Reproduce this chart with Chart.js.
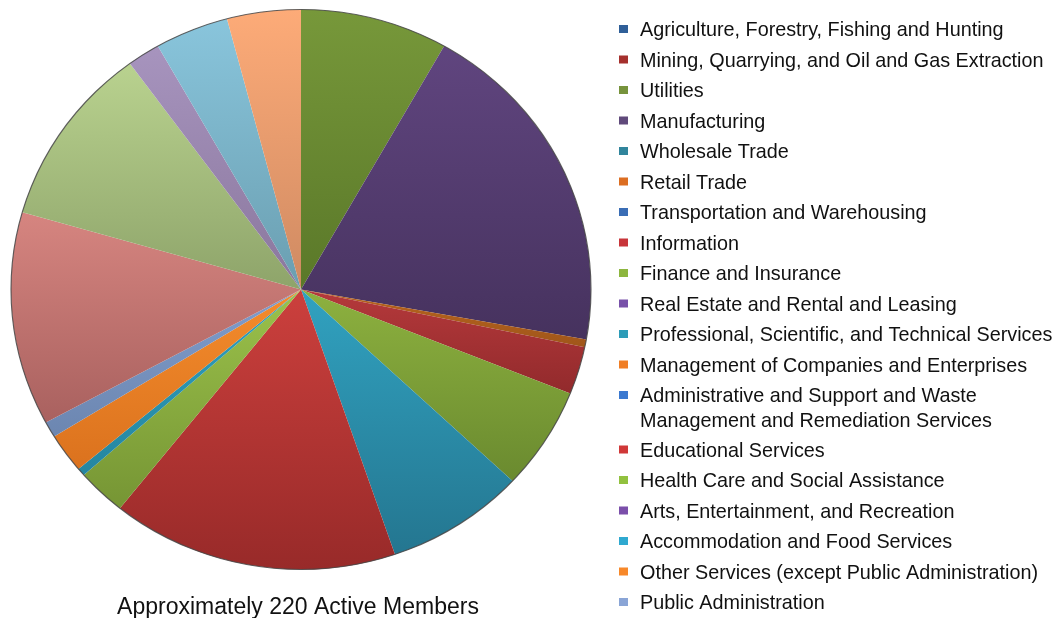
<!DOCTYPE html>
<html><head><meta charset="utf-8">
<script src="https://cdn.jsdelivr.net/npm/chart.js@4.4.1/dist/chart.umd.min.js"></script>
<style>html,body{margin:0;padding:0;background:#fff;overflow:hidden}#wrap{width:1062px;height:618px}</style>
</head><body><div id="wrap"><canvas id="c" width="1062" height="618"></canvas></div>
<script>
// ---- data ----
const categories = [
  'Agriculture, Forestry, Fishing and Hunting',
  'Mining, Quarrying, and Oil and Gas Extraction',
  'Utilities',
  'Manufacturing',
  'Wholesale Trade',
  'Retail Trade',
  'Transportation and Warehousing',
  'Information',
  'Finance and Insurance',
  'Real Estate and Rental and Leasing',
  'Professional, Scientific, and Technical Services',
  'Management of Companies and Enterprises',
  'Administrative and Support and Waste Management and Remediation Services',
  'Educational Services',
  'Health Care and Social Assistance',
  'Arts, Entertainment, and Recreation',
  'Accommodation and Food Services',
  'Other Services (except Public Administration)',
  'Public Administration',
  'Unlisted 1', 'Unlisted 2', 'Unlisted 3', 'Unlisted 4', 'Unlisted 5'
];
const members = [0, 0, 18, 43, 0, 1, 0, 6, 13, 0, 17, 0, 0, 35, 6, 0, 1, 5, 2, 27, 23, 4, 9, 9];
const legendShown = 19;
const legendWrapped = { 12: ['Administrative and Support and Waste', 'Management and Remediation Services'] };
const chartTitle = 'Approximately 220 Active Members';

// ---- styles ----
const topColors = ['#2F5F98','#A5302D','#77983A','#60457F','#31859C','#B8641E','#3A6DB5','#B5393B','#8DB13F','#7851A9',
  '#31A2C0','#F07E25','#3B79D0','#CC403D','#9BC24B','#7B4FAA','#2FA0C0','#F48C2C','#809DCC',
  '#D68580','#B9D28F','#A794BE','#89C5DC','#FDAB78'];
const bottomColors = ['#24497A','#822422','#5A7829','#46325E','#246577','#A0561A','#2B548C','#922A2C','#6A8A2F','#5A3D80',
  '#247690','#C9661C','#2C5EA6','#982A29','#769534','#5B3A80','#2586A0','#DB721E','#6C86B0',
  '#A9615F','#8EA46A','#8A779D','#6A9EB0','#CF8A62'];
const legendColors = ['#2F5F98','#A5302D','#77933C','#604A7B','#31859C','#DC6E22','#3A6DB5','#C8353A','#8DB63F','#7851A9',
  '#2D9CB8','#F07E25','#3B79D0','#D03838','#92C13F','#7B4FAA','#2FA9D0','#F7882A','#8AA5D6'];
const stretchX = 1.0357;

function sliceGradient(ctx) {
  const chart = ctx.chart, i = ctx.dataIndex, area = chart.chartArea;
  if (!area) return topColors[i];
  const vals = chart.data.datasets[0].data;
  const total = vals.reduce((a, b) => a + b, 0);
  let before = 0;
  for (let k = 0; k < i; k++) before += vals[k];
  const a0 = -Math.PI / 2 + before / total * 2 * Math.PI;
  const a1 = a0 + vals[i] / total * 2 * Math.PI;
  const cx = (area.left + area.right) / 2, cy = (area.top + area.bottom) / 2;
  const r = Math.min(area.right - area.left, area.bottom - area.top) / 2;
  const ys = [cy, cy + r * Math.sin(a0), cy + r * Math.sin(a1)];
  if (a0 <= Math.PI / 2 && a1 >= Math.PI / 2) ys.push(cy + r);
  if (a1 >= 1.5 * Math.PI) ys.push(cy - r);
  const y0 = Math.min(...ys), y1 = Math.max(...ys);
  const g = chart.ctx.createLinearGradient(0, y0, 0, Math.max(y1, y0 + 1));
  g.addColorStop(0, topColors[i]);
  g.addColorStop(1, bottomColors[i]);
  return g;
}

const stretchPlugin = {
  id: 'stretch',
  beforeDatasetsDraw(chart) {
    const a = chart.chartArea, c = chart.ctx;
    const cx = (a.left + a.right) / 2, cy = (a.top + a.bottom) / 2;
    c.save();
    c.translate(cx, cy); c.scale(stretchX, 1); c.translate(-cx, -cy);
  },
  afterDatasetsDraw(chart) {
    const a = chart.chartArea, c = chart.ctx;
    const cx = (a.left + a.right) / 2, cy = (a.top + a.bottom) / 2;
    const r = chart.getDatasetMeta(0).data[0].outerRadius;
    c.beginPath();
    c.arc(cx, cy, r, 0, Math.PI * 2);
    c.lineWidth = 1.1;
    c.strokeStyle = 'rgba(70,70,70,0.85)';
    c.stroke();
    c.restore();
  }
};

const legendPlugin = {
  id: 'sideLegend',
  afterDraw(chart) {
    const c = chart.ctx;
    c.save();
    c.font = '19.8px "Liberation Sans", Arial, sans-serif';
    c.textBaseline = 'alphabetic';
    c.textAlign = 'left';
    for (let i = 0; i < legendShown; i++) {
      const y = 29 + 30.5 * i + (i > 12 ? 24 : 0);
      c.fillStyle = legendColors[i];
      c.fillRect(619, y - 4, 9, 8);
      c.fillStyle = '#111';
      const lines = legendWrapped[i] || [chart.data.labels[i]];
      lines.forEach((t, k) => c.fillText(t, 640, y + 7 + k * 25));
    }
    c.font = '23px "Liberation Sans", Arial, sans-serif';
    c.textAlign = 'center';
    c.fillStyle = '#111';
    c.fillText(chartTitle, 298, 614);
    c.restore();
  }
};

new Chart(document.getElementById('c'), {
  type: 'pie',
  data: {
    labels: categories,
    datasets: [{ data: members, backgroundColor: sliceGradient, borderWidth: 0 }]
  },
  options: {
    responsive: false,
    animation: false,
    devicePixelRatio: 1,
    layout: { padding: { left: 21, right: 481, top: 9.5, bottom: 48.5 } },
    plugins: { legend: { display: false }, tooltip: { enabled: false } }
  },
  plugins: [stretchPlugin, legendPlugin]
});
</script></body></html>
